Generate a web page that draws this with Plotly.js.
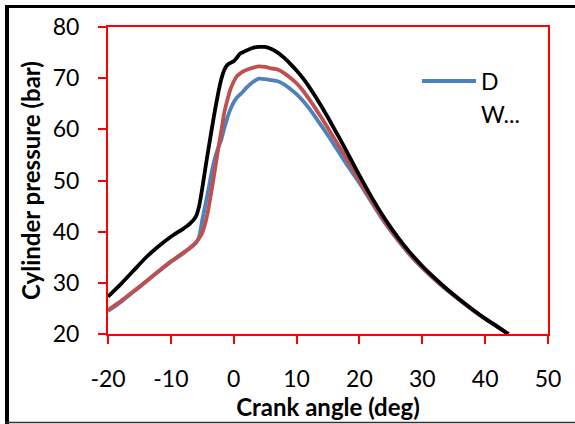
<!DOCTYPE html>
<html>
<head>
<meta charset="utf-8">
<script src="https://cdn.plot.ly/plotly-3.0.1.min.js"></script>
<style>
html,body{margin:0;padding:0;background:#fff;}
#chart{width:575px;height:424px;}
</style>
</head>
<body>
<div id="chart"></div>
<script>
// Crank angle (deg)
const crankAngle = [-20,-18,-16,-14,-12,-10,-8,-7,-6,-5.5,-5,-4.5,-4,-3.5,-3,-2.5,-2,-1.5,-1,-0.5,0,0.5,1,1.5,2,3,4,5,6,7,8,9,10,11,12,13,14,15,16,17,18,19,20,22,24,26,28,30,32,34,36,38,40,42,43.7];

// Series "D" (blue)
const pressureD = [24.5,26.2,28.2,30.2,32.2,34.1,35.8,36.7,37.8,39.0,42.3,45.3,48.4,51.7,54.3,56.3,57.9,60.2,62.3,64.0,65.3,66.2,66.8,67.4,68.1,69.2,69.9,69.8,69.6,69.4,68.8,67.9,66.9,65.6,64.1,62.4,60.6,58.8,56.9,55.0,53.1,51.3,49.5,45.6,41.8,38.5,35.5,32.9,30.6,28.5,26.6,24.7,23.0,21.4,20.0];

// Series "W..." (red)
const pressureW = [24.7,26.4,28.3,30.2,32.2,34.2,35.9,36.8,37.9,38.7,39.8,41.8,44.6,48.2,52.0,55.9,59.5,63.3,65.8,67.9,69.3,70.4,70.9,71.3,71.6,72.0,72.3,72.2,71.9,71.7,71.0,70.1,69.0,67.6,65.9,64.1,62.2,60.2,58.2,56.2,54.2,52.1,50.0,45.9,42.0,38.7,35.6,33.0,30.7,28.6,26.6,24.7,23.0,21.4,20.0];

// Third series (black)
const pressureB = [27.3,29.7,32.3,34.9,37.1,39.0,40.6,41.5,43.0,45.0,48.5,52.5,56.3,60.0,63.6,66.9,69.7,71.6,72.6,73.0,73.3,74.0,74.8,75.1,75.4,75.9,76.1,76.1,75.7,75.0,74.0,72.8,71.5,70.0,68.3,66.4,64.4,62.3,60.1,57.9,55.6,53.3,51.0,46.6,42.6,39.1,36.0,33.3,30.9,28.7,26.7,24.8,23.0,21.4,20.0];

const xTicks = [-20,-10,0,10,20,30,40,50];
const yTicks = [20,30,40,50,60,70,80];
const legendNames = ["D", "W..."];

const W = 575, H = 424;
const M = {l:108, r:27, t:27, b:90};
const pw = W - M.l - M.r, ph = H - M.t - M.b;
const px2x = p => (p - M.l) / pw;
const px2y = p => (H - M.b - p) / ph;

const FONT = 'Lato, "Open Sans", sans-serif';
const lw = 3.8;

const traces = [
  {x: crankAngle, y: pressureD, type:'scatter', mode:'lines', name: legendNames[0],
   line:{color:'#4F81BD', width:lw, shape:'spline', smoothing:0.6}, showlegend:false},
  {x: crankAngle, y: pressureW, type:'scatter', mode:'lines', name: legendNames[1],
   line:{color:'#C0504D', width:lw, shape:'spline', smoothing:0.6}, showlegend:false},
  {x: crankAngle, y: pressureB, type:'scatter', mode:'lines', name:'',
   line:{color:'#000000', width:lw, shape:'spline', smoothing:0.6}, showlegend:false}
];

const axisCommon = {
  showgrid:false, zeroline:false, showline:true, linecolor:'#FF0000', linewidth:2,
  mirror:true, ticks:'outside', ticklen:8, tickwidth:2, tickcolor:'#FF0000',
  tickfont:{family:FONT, size:23, color:'#000'}
};

const layout = {
  width:W, height:H, margin:M, paper_bgcolor:'#fff', plot_bgcolor:'#fff',
  showlegend:false,
  xaxis: Object.assign({}, axisCommon, {
    range:[-20,50], tickvals:xTicks, ticktext:xTicks.map(String), ticklabelstandoff:15,
    title:{text:'Crank angle (deg)', font:{family:FONT, size:24, color:'#000', weight:'bold'}, standoff:0}
  }),
  yaxis: Object.assign({}, axisCommon, {
    range:[20,80], tickvals:yTicks, ticktext:yTicks.map(String), ticklabelstandoff:14,
    title:{text:'Cylinder pressure (bar)', font:{family:FONT, size:24, color:'#000', weight:'bold'}, standoff:5}
  }),
  shapes:[
    // legend sample
    {type:'line', xref:'paper', yref:'paper', x0:px2x(422), x1:px2x(476), y0:px2y(81), y1:px2y(81),
     line:{color:'#4F81BD', width:4}},
    // outer frame
    {type:'line', xref:'paper', yref:'paper', x0:px2x(5), x1:px2x(580), y0:px2y(6.5), y1:px2y(6.5),
     line:{color:'#000', width:3}},
    {type:'line', xref:'paper', yref:'paper', x0:px2x(7), x1:px2x(7), y0:px2y(5), y1:px2y(430),
     line:{color:'#000', width:4}},
    {type:'line', xref:'paper', yref:'paper', x0:px2x(5), x1:px2x(580), y0:px2y(422.5), y1:px2y(422.5),
     line:{color:'#333', width:1.5}}
  ],
  annotations:[
    {xref:'paper', yref:'paper', x:px2x(479), y:px2y(81), xanchor:'left', yanchor:'middle',
     text:legendNames[0], showarrow:false, font:{family:FONT, size:23, color:'#000'}},
    {xref:'paper', yref:'paper', x:px2x(479), y:px2y(114), xanchor:'left', yanchor:'middle',
     text:legendNames[1], showarrow:false, font:{family:FONT, size:23, color:'#000'}}
  ]
};

Plotly.newPlot('chart', traces, layout, {displayModeBar:false, staticPlot:true});
</script>
</body>
</html>
